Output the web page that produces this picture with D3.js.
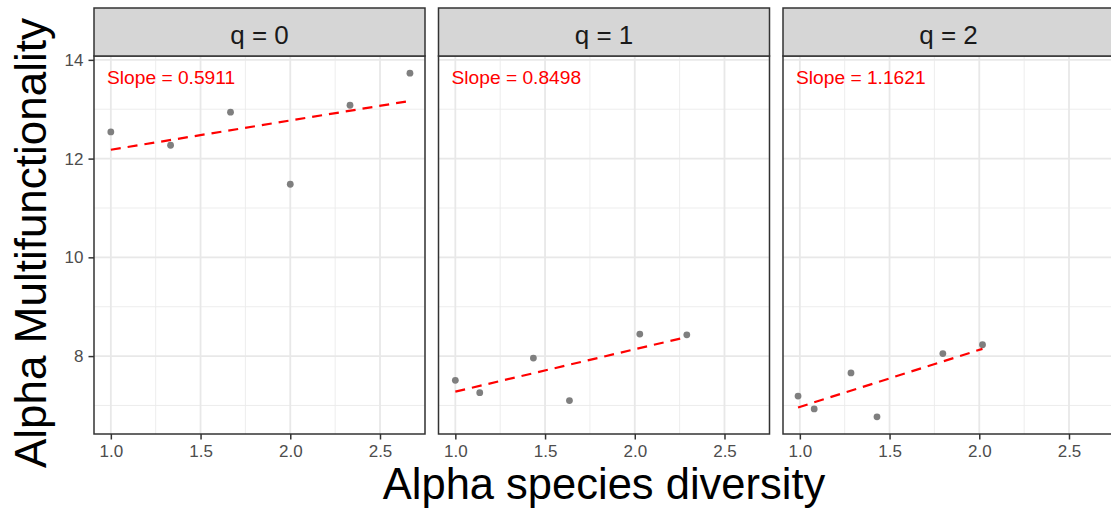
<!DOCTYPE html>
<html>
<head>
<meta charset="utf-8">
<script src="https://cdn.jsdelivr.net/npm/d3@7"></script>
<style>
  html, body { margin: 0; padding: 0; background: #fff; }
  svg { display: block; font-family: "Liberation Sans", Arial, Helvetica, sans-serif; }
</style>
</head>
<body>
<svg id="chart" width="1111" height="516"></svg>
<script>
// ---- data ----
const panels = ["q = 0", "q = 1", "q = 2"];
const q0_x = [1.000, 1.333, 1.667, 2.000, 2.333, 2.667];
const q0_y = [12.54, 12.27, 12.94, 11.48, 13.08, 13.73];
const q1_x = [1.000, 1.136, 1.435, 1.636, 2.028, 2.290];
const q1_y = [7.51, 7.26, 7.96, 7.10, 8.445, 8.43];
const q2_x = [0.990, 1.080, 1.285, 1.430, 1.797, 2.018];
const q2_y = [7.19, 6.93, 7.66, 6.77, 8.05, 8.23];
const slopeLabels = ["Slope = 0.5911", "Slope = 0.8498", "Slope = 1.1621"];
const xTicks = [1.0, 1.5, 2.0, 2.5];
const xMinor = [1.25, 1.75, 2.25, 2.75];
const yTicks = [8, 10, 12, 14];
const yMinor = [7, 9, 11, 13];
const xTitle = "Alpha species diversity";
const yTitle = "Alpha Multifunctionality";

const seriesX = [q0_x, q1_x, q2_x];
const seriesY = [q0_y, q1_y, q2_y];

// ---- layout ----
const svg = d3.select("#chart");
const left0 = 94, panelW = 331, gap = 13.5;
const stripTop = 8, stripH = 48;
const pTop = stripTop + stripH, pBottom = 434;

// shared scales with 5% expansion (ggplot-like)
const allX = seriesX.flat(), allY = seriesY.flat();
const [xmn, xmx] = d3.extent(allX), [ymn, ymx] = d3.extent(allY);
const xd = [xmn - 0.05 * (xmx - xmn), xmx + 0.05 * (xmx - xmn)];
const yd = [ymn - 0.05 * (ymx - ymn), ymx + 0.05 * (ymx - ymn)];
const y = d3.scaleLinear().domain(yd).range([pBottom, pTop]);

function linfit(xs, ys) {
  const mx = d3.mean(xs), my = d3.mean(ys);
  let sxy = 0, sxx = 0;
  xs.forEach((v, i) => { sxy += (v - mx) * (ys[i] - my); sxx += (v - mx) * (v - mx); });
  const b = sxy / sxx;
  return { b, a: my - b * mx };
}

panels.forEach((name, i) => {
  const L = left0 + i * (panelW + gap);
  const x = d3.scaleLinear().domain(xd).range([L, L + panelW]);
  const g = svg.append("g");

  g.append("rect").attr("x", L).attr("y", pTop).attr("width", panelW).attr("height", pBottom - pTop).attr("fill", "#fff");

  // minor grid
  g.selectAll(".xm").data(xMinor.filter(v => v > xd[0] && v < xd[1])).join("line")
    .attr("x1", d => x(d)).attr("x2", d => x(d)).attr("y1", pTop).attr("y2", pBottom)
    .attr("stroke", "#EBEBEB").attr("stroke-width", 0.9);
  g.selectAll(".ym").data(yMinor).join("line")
    .attr("y1", d => y(d)).attr("y2", d => y(d)).attr("x1", L).attr("x2", L + panelW)
    .attr("stroke", "#EBEBEB").attr("stroke-width", 0.9);
  // major grid
  g.selectAll(".xM").data(xTicks).join("line")
    .attr("x1", d => x(d)).attr("x2", d => x(d)).attr("y1", pTop).attr("y2", pBottom)
    .attr("stroke", "#E8E8E8").attr("stroke-width", 1.8);
  g.selectAll(".yM").data(yTicks).join("line")
    .attr("y1", d => y(d)).attr("y2", d => y(d)).attr("x1", L).attr("x2", L + panelW)
    .attr("stroke", "#E8E8E8").attr("stroke-width", 1.8);

  // points
  const pts = seriesX[i].map((v, k) => ({ x: v, y: seriesY[i][k] }));
  g.selectAll("circle").data(pts).join("circle")
    .attr("cx", d => x(d.x)).attr("cy", d => y(d.y)).attr("r", 3.4)
    .attr("fill", "#7F7F7F");

  // regression line
  const fit = linfit(seriesX[i], seriesY[i]);
  const [fx0, fx1] = d3.extent(seriesX[i]);
  g.append("line")
    .attr("x1", x(fx0)).attr("y1", y(fit.a + fit.b * fx0))
    .attr("x2", x(fx1)).attr("y2", y(fit.a + fit.b * fx1))
    .attr("stroke", "#FF0000").attr("stroke-width", 2.2).attr("stroke-dasharray", "10,7");

  // slope label
  g.append("text").attr("x", L + 13).attr("y", pTop + 28)
    .attr("fill", "#FF0000").attr("font-size", 19.2).text(slopeLabels[i]);

  // panel border
  g.append("rect").attr("x", L).attr("y", pTop).attr("width", panelW).attr("height", pBottom - pTop)
    .attr("fill", "none").attr("stroke", "#333333").attr("stroke-width", 1.5);

  // strip
  g.append("rect").attr("x", L).attr("y", stripTop).attr("width", panelW).attr("height", stripH)
    .attr("fill", "#D6D6D6").attr("stroke", "#333333").attr("stroke-width", 1.5);
  g.append("text").attr("x", L + panelW / 2).attr("y", stripTop + 36)
    .attr("text-anchor", "middle").attr("font-size", 26).attr("fill", "#1A1A1A").text(name);

  // x axis
  const xAxis = d3.axisBottom(x).tickValues(xTicks).tickFormat(d3.format(".1f")).tickSize(5.5).tickPadding(5);
  const ax = g.append("g").attr("transform", `translate(0,${pBottom})`).call(xAxis);
  ax.select(".domain").remove();
  ax.selectAll(".tick line").attr("stroke", "#333333").attr("stroke-width", 1.5);
  ax.selectAll(".tick text").attr("fill", "#4D4D4D").attr("font-size", 17).attr("font-family", "Liberation Sans, Arial, sans-serif");

  if (i === 0) {
    const yAxis = d3.axisLeft(y).tickValues(yTicks).tickSize(5.5).tickPadding(5);
    const ay = g.append("g").attr("transform", `translate(${L},0)`).call(yAxis);
    ay.select(".domain").remove();
    ay.selectAll(".tick line").attr("stroke", "#333333").attr("stroke-width", 1.5);
    ay.selectAll(".tick text").attr("fill", "#4D4D4D").attr("font-size", 17).attr("font-family", "Liberation Sans, Arial, sans-serif");
  }
});

// axis titles
const plotRight = left0 + 3 * panelW + 2 * gap;
svg.append("text").attr("x", (left0 + plotRight) / 2).attr("y", 499)
  .attr("text-anchor", "middle").attr("font-size", 43.5).attr("fill", "#000").text(xTitle);
svg.append("text").attr("transform", `translate(46,243) rotate(-90)`)
  .attr("text-anchor", "middle").attr("font-size", 44).attr("fill", "#000").text(yTitle);
</script>
</body>
</html>
